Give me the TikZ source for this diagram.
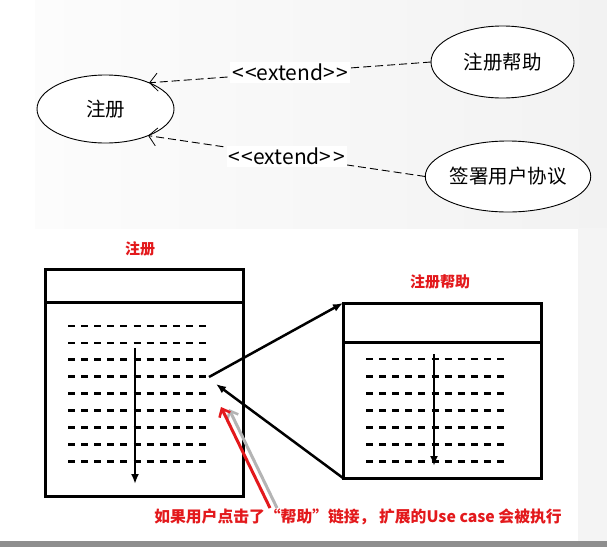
\documentclass[tikz,border=0pt]{standalone}
\usepackage{fontspec}
\setmainfont{Noto Sans CJK SC}
\usetikzlibrary{arrows.meta,shapes.geometric}
\definecolor{redtxt}{HTML}{E3191C}
\definecolor{shadowgray}{HTML}{B4B4B4}
\definecolor{bargray}{HTML}{8E8E8E}
\definecolor{stripgray}{HTML}{F4F4F4}
\definecolor{bgleft}{HTML}{FCFCFC}
\definecolor{bgright}{HTML}{F2F2F2}
\begin{document}
\begin{tikzpicture}[x=1pt,y=-1pt,
  uc/.style={ellipse,draw,line width=0.9pt,fill=white,inner sep=0pt,outer sep=0pt,font=\fontsize{19.5}{20}\selectfont},
  ext/.style={dash pattern=on 8pt off 4pt,line width=0.9pt,-{Straight Barb[length=8pt,width=18pt,line width=0.8pt]}},
  extlbl/.style={fill=white,inner sep=2pt,font=\fontsize{21}{22}\selectfont},
  win/.style={draw,line width=3pt,fill=white,inner sep=0pt,outer sep=0pt,anchor=north west,minimum width=198pt},
  ttl/.style={text=redtxt,font=\fontsize{15}{16}\selectfont\bfseries},
  rowline/.style={line width=2.8pt,dash pattern=on 7pt off 6.1pt},
  flow/.style={line width=2.5pt,-{Latex[length=10pt,width=8pt]}},
  link/.style={line width=2.5pt,-{Latex[length=10pt,width=8pt]}},
  hint/.style={line width=3pt,-{Straight Barb[length=7pt,width=12pt,line width=2.5pt]}},
  note/.style={text=redtxt,font=\fontsize{15.8}{16}\selectfont\bfseries,inner sep=1pt}
]
\useasboundingbox (0,0) rectangle (607,547);
% backgrounds
\fill[white] (0,0) rectangle (607,547);
\shade[left color=bgleft,right color=bgright] (35,0) rectangle (607,228);
\fill[stripgray] (578,228) rectangle (607,541);
\fill[bargray] (0,541) rectangle (607,547);

% ---- use case diagram ----
\node[uc,minimum width=137pt,minimum height=68pt] (reg) at (105.5,109) {注册};
\node[uc,minimum width=143pt,minimum height=72pt] (help) at (502.5,62) {注册帮助};
\node[uc,minimum width=144pt,minimum height=71pt] (agree) at (508,176.5) {签署用户协议};
\draw[ext] (help.west) -- node[extlbl] (l1) {<\hspace{1.5pt}<extend>\hspace{1.5pt}>} (reg.31);
\draw[ext] (agree.west) -- node[extlbl] (l2) {<\hspace{1.5pt}<extend>\hspace{1.5pt}>} (reg.-32);

% ---- windows ----
\node[ttl] (t1) at (140,249) {注册};
\node[ttl] (t2) at (440,282) {注册帮助};
\node[win,minimum height=227pt] (win1) at (45,269) {};
\node[win,minimum height=175pt] (win2) at (343,303) {};
\draw[line width=3pt] ([yshift=-33pt]win1.north west) -- ([yshift=-33pt]win1.north east);
\draw[line width=3pt] ([yshift=-39pt]win2.north west) -- ([yshift=-39pt]win2.north east);
\foreach \i in {0,...,8} {\draw[rowline] (68,326+16.9*\i) -- (207,326+16.9*\i);}
\foreach \i in {0,...,6} {\draw[rowline] (366,359+17.1*\i) -- (505,359+17.1*\i);}
\coordinate (f1s) at (135,348); \coordinate (f1e) at (135,484);
\coordinate (f2s) at (434,354); \coordinate (f2e) at (434,466);
\draw[flow] (f1s) -- (f1e);
\draw[flow] (f2s) -- (f2e);
\coordinate (callpt) at (209,377);
\coordinate (retpt) at (216,384);
\draw[link] (callpt) -- (win2.north west);
\draw[link] (win2.south west) -- (retpt);

% ---- note ----
\node[note] (nt) at (358,517) {如果用户点击了“帮助”链接， 扩展的Use case 会被执行};
\coordinate (gs) at (277,508); \coordinate (ge) at (229,409);
\coordinate (rs) at (270,508); \coordinate (re) at (221,407);
\draw[hint,shadowgray] (gs) -- (ge);
\draw[hint,redtxt] (rs) -- (re);
\end{tikzpicture}
\end{document}
